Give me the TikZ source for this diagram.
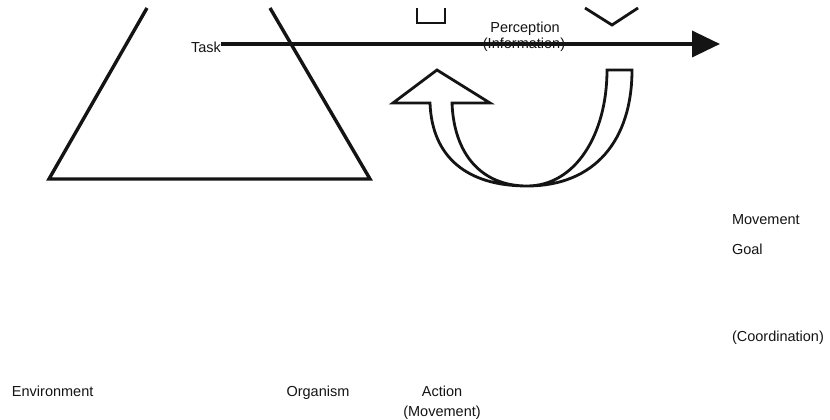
\documentclass[tikz,border=0pt]{standalone}
\usepackage{fontspec}
\setmainfont{Liberation Sans}
\usetikzlibrary{arrows.meta}

\begin{document}
\begin{tikzpicture}[x=1pt,y=1pt,
  lbl/.style={text=drawColor,anchor=base,inner sep=0pt,outer sep=0pt,font=\fontsize{14.5}{16}\selectfont},
  thick line/.style={draw=drawColor,line width=3.4pt,line join=miter},
  block/.style={draw=drawColor,line width=2.8pt,line join=miter}]
\definecolor{fillColor}{RGB}{255,255,255}
\definecolor{drawColor}{RGB}{20,20,20}
\path[use as bounding box,fill=fillColor] (0,0) rectangle (830,420);

% triangle (top cut off)
\path[thick line] (147,412) --
	( 49,241) --
	(370,241) --
	(270,412);

% ends of the two block arrows at the top
\path[block] (417,412) --
	(417,397) --
	(445,397) --
	(445,412);
\path[block] (585,412) --
	(612,395) --
	(638,412);

% turning arrow
\path[block] (430,317) .. controls (432,262) and (468,234) .. (527,234) --
	(527,234) .. controls (595,234) and (632,280) .. (632,350) --
	(607,350) .. controls (607,285) and (575,234) .. (527,234)
	.. controls (482,234) and (454,265) .. (452,317) --
	(490,317) --
	(437,350) --
	(393,317) -- cycle;

% labels
\node[lbl] (task) at (206,367) {Task};
\node[lbl] (perc) at (525,387) {Perception};
\node[lbl] (info) at (524,371) {(Information)};
\node[lbl,anchor=base west] (move) at (732,195) {Movement};
\node[lbl,anchor=base west] (goal) at (732,165) {Goal};
\node[lbl,anchor=base west] (coord) at (732,78) {(Coordination)};
\node[lbl,anchor=base west] (env) at (12,23) {Environment};
\node[lbl] (org) at (318,23) {Organism};
\node[lbl] (act) at (442,23) {Action};
\node[lbl] (actmv) at (442,3) {(Movement)};

% perception arrow
\coordinate (tip) at (720,376);
\draw[draw=drawColor,line width=3.6pt,-{Triangle[length=28pt,width=26pt]}] (task.east |- tip) -- (tip);
\end{tikzpicture}
\end{document}
